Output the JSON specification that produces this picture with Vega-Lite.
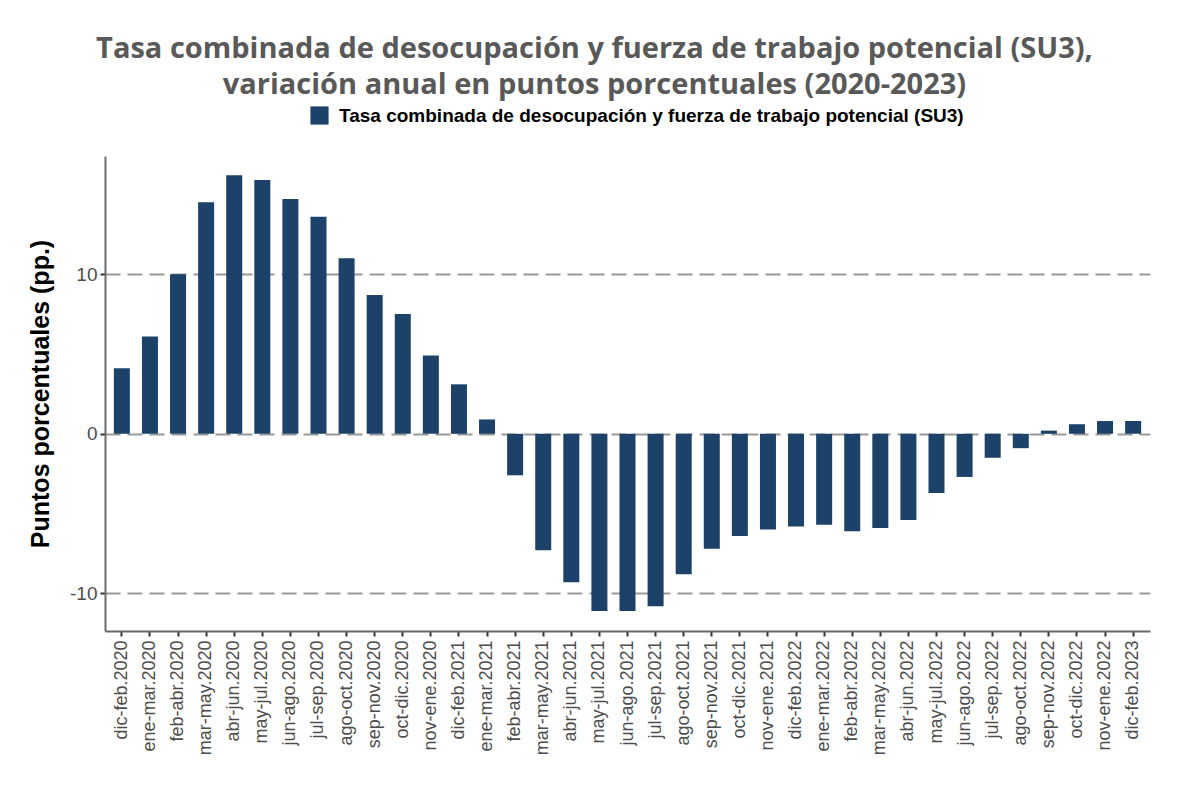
{
  "$schema": "https://vega.github.io/schema/vega-lite/v6.json",
  "width": 1045,
  "height": 475,
  "autosize": {"type": "none"},
  "padding": {"left": 105, "top": 156, "right": 46, "bottom": 160},
  "background": "white",
  "title": {
    "text": ["Tasa combinada de desocupación y fuerza de trabajo potencial (SU3),", "variación anual en puntos porcentuales (2020-2023)"],
    "anchor": "middle",
    "frame": "group",
    "dx": -33,
    "offset": 6,
    "font": "Open Sans",
    "fontSize": 29,
    "fontWeight": "bold",
    "color": "#595959",
    "lineHeight": 36
  },
  "data": {
    "values": [
      {"periodo": "dic-feb.2020", "valor": 4.1},
      {"periodo": "ene-mar.2020", "valor": 6.1},
      {"periodo": "feb-abr.2020", "valor": 10.0},
      {"periodo": "mar-may.2020", "valor": 14.5},
      {"periodo": "abr-jun.2020", "valor": 16.2},
      {"periodo": "may-jul.2020", "valor": 15.9},
      {"periodo": "jun-ago.2020", "valor": 14.7},
      {"periodo": "jul-sep.2020", "valor": 13.6},
      {"periodo": "ago-oct.2020", "valor": 11.0},
      {"periodo": "sep-nov.2020", "valor": 8.7},
      {"periodo": "oct-dic.2020", "valor": 7.5},
      {"periodo": "nov-ene.2020", "valor": 4.9},
      {"periodo": "dic-feb.2021", "valor": 3.1},
      {"periodo": "ene-mar.2021", "valor": 0.9},
      {"periodo": "feb-abr.2021", "valor": -2.6},
      {"periodo": "mar-may.2021", "valor": -7.3},
      {"periodo": "abr-jun.2021", "valor": -9.3},
      {"periodo": "may-jul.2021", "valor": -11.1},
      {"periodo": "jun-ago.2021", "valor": -11.1},
      {"periodo": "jul-sep.2021", "valor": -10.8},
      {"periodo": "ago-oct.2021", "valor": -8.8},
      {"periodo": "sep-nov.2021", "valor": -7.2},
      {"periodo": "oct-dic.2021", "valor": -6.4},
      {"periodo": "nov-ene.2021", "valor": -6.0},
      {"periodo": "dic-feb.2022", "valor": -5.8},
      {"periodo": "ene-mar.2022", "valor": -5.7},
      {"periodo": "feb-abr.2022", "valor": -6.1},
      {"periodo": "mar-may.2022", "valor": -5.9},
      {"periodo": "abr-jun.2022", "valor": -5.4},
      {"periodo": "may-jul.2022", "valor": -3.7},
      {"periodo": "jun-ago.2022", "valor": -2.7},
      {"periodo": "jul-sep.2022", "valor": -1.5},
      {"periodo": "ago-oct.2022", "valor": -0.9},
      {"periodo": "sep-nov.2022", "valor": 0.2},
      {"periodo": "oct-dic.2022", "valor": 0.6},
      {"periodo": "nov-ene.2022", "valor": 0.8},
      {"periodo": "dic-feb.2023", "valor": 0.8}
    ]
  },
  "mark": {"type": "bar"},
  "encoding": {
    "x": {
      "field": "periodo",
      "type": "nominal",
      "sort": null,
      "scale": {"paddingInner": 0.43, "paddingOuter": 0.315},
      "axis": {
        "title": null,
        "labelAngle": -90,
        "labelAlign": "right",
        "labelBaseline": "middle",
        "labelFont": "Liberation Sans",
        "labelFontSize": 18,
        "labelColor": "#4d4d4d",
        "labelPadding": 4,
        "domainColor": "#6b6b6b",
        "domainWidth": 2,
        "tickColor": "#333333",
        "tickWidth": 2,
        "tickSize": 5,
        "grid": false
      }
    },
    "y": {
      "field": "valor",
      "type": "quantitative",
      "scale": {"domain": [-12.35, 17.4], "nice": false, "zero": false},
      "axis": {
        "title": "Puntos porcentuales (pp.)",
        "titleFont": "Liberation Sans",
        "titleFontSize": 25,
        "titleFontWeight": "bold",
        "titleColor": "#000000",
        "titlePadding": 16,
        "values": [-10, 0, 10],
        "labelExpr": "replace(datum.label, '−', '-')",
        "labelFont": "Liberation Sans",
        "labelFontSize": 19,
        "labelColor": "#4d4d4d",
        "labelPadding": 3,
        "domainColor": "#6b6b6b",
        "domainWidth": 2,
        "tickColor": "#333333",
        "tickWidth": 2,
        "tickSize": 5,
        "grid": true,
        "gridColor": "#999999",
        "gridDash": [15, 7],
        "gridWidth": 2
      }
    },
    "color": {
      "datum": "Tasa combinada de desocupación y fuerza de trabajo potencial (SU3)",
      "type": "nominal",
      "scale": {"range": ["#1c4269"]},
      "legend": {
        "title": null,
        "orient": "none",
        "legendX": 205,
        "legendY": -50,
        "symbolType": "square",
        "symbolSize": 330,
        "symbolStrokeWidth": 0,
        "labelFont": "Liberation Sans",
        "labelFontSize": 19,
        "labelFontWeight": "bold",
        "labelColor": "#000000",
        "labelLimit": 900,
        "labelOffset": 10
      }
    }
  },
  "config": {
    "view": {"stroke": null},
    "legend": {"symbolOpacity": 1}
  }
}
